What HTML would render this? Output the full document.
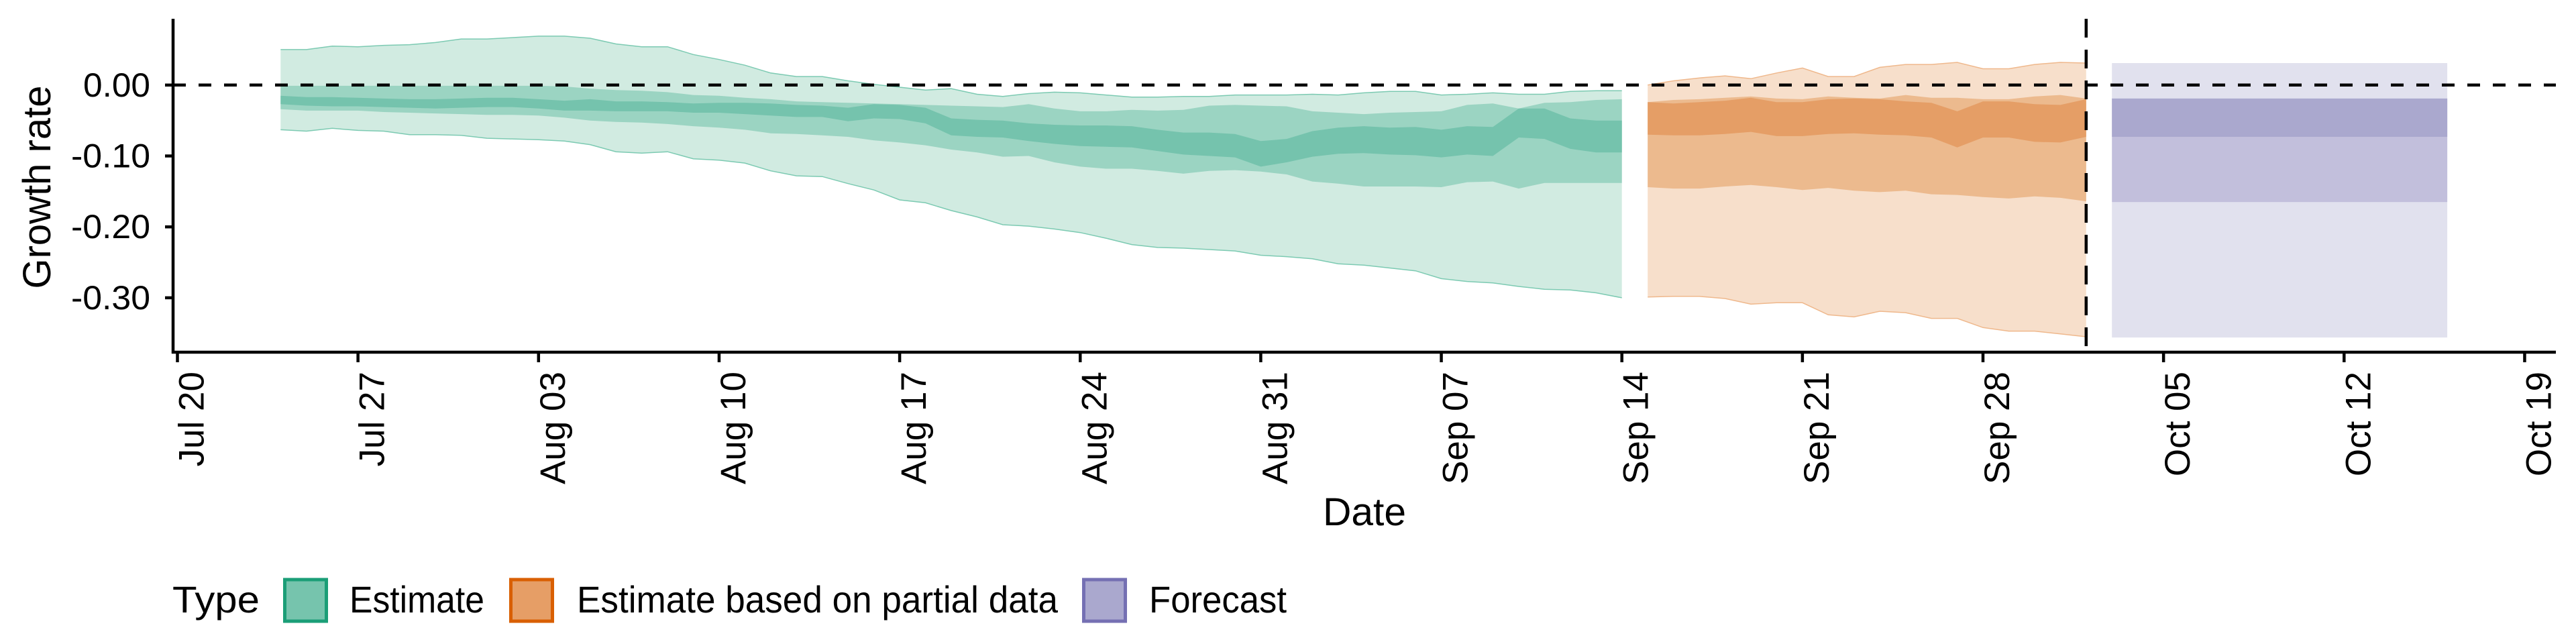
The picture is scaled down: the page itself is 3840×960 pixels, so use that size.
<!DOCTYPE html>
<html><head><meta charset="utf-8"><style>
html,body{margin:0;padding:0;background:#fff;}
svg{display:block;font-family:"Liberation Sans",Arial,sans-serif;}
</style></head><body>
<svg id="chart" width="3840" height="960" viewBox="0 0 3840 960" xmlns="http://www.w3.org/2000/svg"></svg>
<script>
// ---- data ----
const yTicks = [0, -0.1, -0.2, -0.3];
const yTickLabels = ["0.00", "-0.10", "-0.20", "-0.30"];
const xTickDays = [0, 7, 14, 21, 28, 35, 42, 49, 56, 63, 70, 77, 84, 91];
const xTickLabels = ["Jul 20","Jul 27","Aug 03","Aug 10","Aug 17","Aug 24","Aug 31","Sep 07","Sep 14","Sep 21","Sep 28","Oct 05","Oct 12","Oct 19"];
const estStartDay = 4;
const estOuterHi = [0.050,0.050,0.055,0.054,0.056,0.057,0.060,0.065,0.065,0.067,0.069,0.069,0.066,0.058,0.054,0.054,0.043,0.036,0.028,0.017,0.012,0.012,0.006,0.001,-0.003,-0.007,-0.005,-0.013,-0.016,-0.012,-0.010,-0.011,-0.014,-0.017,-0.017,-0.016,-0.016,-0.014,-0.014,-0.014,-0.013,-0.014,-0.011,-0.009,-0.009,-0.014,-0.013,-0.011,-0.013,-0.013,-0.009,-0.008,-0.008];
const estOuterLo = [-0.063,-0.065,-0.061,-0.064,-0.065,-0.070,-0.070,-0.071,-0.075,-0.076,-0.077,-0.079,-0.084,-0.094,-0.096,-0.094,-0.104,-0.106,-0.110,-0.121,-0.128,-0.129,-0.139,-0.148,-0.162,-0.166,-0.177,-0.186,-0.197,-0.199,-0.203,-0.208,-0.216,-0.225,-0.229,-0.230,-0.232,-0.234,-0.240,-0.242,-0.245,-0.252,-0.254,-0.258,-0.262,-0.273,-0.277,-0.279,-0.284,-0.288,-0.289,-0.293,-0.300];
const estMidHi = [-0.001,-0.001,-0.001,-0.001,-0.001,-0.001,-0.001,-0.001,-0.001,-0.001,-0.001,-0.002,-0.005,-0.007,-0.008,-0.010,-0.014,-0.015,-0.018,-0.020,-0.023,-0.024,-0.025,-0.026,-0.027,-0.028,-0.029,-0.030,-0.031,-0.027,-0.033,-0.037,-0.037,-0.035,-0.036,-0.035,-0.029,-0.028,-0.029,-0.030,-0.037,-0.039,-0.041,-0.039,-0.038,-0.037,-0.028,-0.026,-0.033,-0.025,-0.024,-0.021,-0.020];
const estMidLo = [-0.034,-0.036,-0.036,-0.036,-0.038,-0.039,-0.040,-0.041,-0.042,-0.042,-0.043,-0.046,-0.050,-0.052,-0.053,-0.055,-0.058,-0.060,-0.063,-0.068,-0.069,-0.071,-0.073,-0.078,-0.081,-0.085,-0.091,-0.095,-0.101,-0.100,-0.109,-0.115,-0.118,-0.118,-0.121,-0.125,-0.121,-0.120,-0.122,-0.126,-0.136,-0.139,-0.143,-0.143,-0.143,-0.144,-0.137,-0.136,-0.146,-0.138,-0.138,-0.138,-0.138];
const estInnerHi = [-0.015,-0.017,-0.017,-0.018,-0.019,-0.020,-0.020,-0.019,-0.018,-0.018,-0.020,-0.022,-0.020,-0.023,-0.023,-0.024,-0.026,-0.025,-0.025,-0.026,-0.028,-0.029,-0.032,-0.027,-0.028,-0.032,-0.047,-0.049,-0.050,-0.054,-0.056,-0.057,-0.057,-0.058,-0.063,-0.067,-0.067,-0.069,-0.079,-0.076,-0.065,-0.060,-0.058,-0.060,-0.059,-0.063,-0.058,-0.059,-0.033,-0.033,-0.047,-0.050,-0.050];
const estInnerLo = [-0.027,-0.029,-0.030,-0.030,-0.031,-0.032,-0.033,-0.032,-0.031,-0.031,-0.033,-0.036,-0.036,-0.037,-0.037,-0.037,-0.039,-0.039,-0.041,-0.043,-0.045,-0.045,-0.051,-0.047,-0.048,-0.054,-0.071,-0.073,-0.074,-0.079,-0.083,-0.086,-0.087,-0.088,-0.093,-0.098,-0.100,-0.102,-0.115,-0.109,-0.101,-0.097,-0.096,-0.098,-0.099,-0.102,-0.098,-0.100,-0.074,-0.076,-0.090,-0.095,-0.095];
const partStartDay = 57;
const partOuterHi = [0.000,0.006,0.010,0.013,0.009,0.017,0.024,0.012,0.012,0.025,0.029,0.029,0.032,0.023,0.023,0.029,0.032,0.031];
const partOuterLo = [-0.299,-0.298,-0.298,-0.301,-0.309,-0.307,-0.307,-0.324,-0.327,-0.319,-0.321,-0.329,-0.329,-0.342,-0.347,-0.347,-0.351,-0.355];
const partMidHi = [-0.024,-0.021,-0.020,-0.018,-0.016,-0.019,-0.020,-0.016,-0.018,-0.019,-0.014,-0.018,-0.018,-0.020,-0.020,-0.016,-0.014,-0.019];
const partMidLo = [-0.144,-0.146,-0.146,-0.143,-0.141,-0.144,-0.148,-0.145,-0.149,-0.151,-0.149,-0.154,-0.155,-0.158,-0.160,-0.157,-0.159,-0.164];
const partInnerHi = [-0.024,-0.026,-0.024,-0.022,-0.018,-0.024,-0.024,-0.020,-0.019,-0.020,-0.023,-0.025,-0.037,-0.023,-0.023,-0.027,-0.028,-0.020];
const partInnerLo = [-0.070,-0.071,-0.071,-0.069,-0.066,-0.072,-0.072,-0.069,-0.068,-0.070,-0.071,-0.074,-0.088,-0.074,-0.074,-0.080,-0.081,-0.073];
const forecastDays = [75, 88];
const forecastOuter = [0.031, -0.356];
const forecastMid = [-0.019, -0.165];
const forecastInner = [-0.019, -0.073];
const dataCutoffDay = 74;

// ---- scales ----
const X0 = 264.5, PXD = 38.45, Y0 = 126.8, PXV = 1057;
function xs(d){ return X0 + d*PXD; }
function ys(v){ return Y0 - v*PXV; }

const NS = "http://www.w3.org/2000/svg";
const svg = document.getElementById("chart");
function mk(tag, attrs, parent){
  const e = document.createElementNS(NS, tag);
  for (const k in attrs) e.setAttribute(k, attrs[k]);
  (parent||svg).appendChild(e);
  return e;
}
function ribbonPath(start, hi, lo){
  let p = "";
  for (let i=0;i<hi.length;i++) p += (i?"L":"M")+xs(start+i).toFixed(1)+","+ys(hi[i]).toFixed(1);
  for (let i=lo.length-1;i>=0;i--) p += "L"+xs(start+i).toFixed(1)+","+ys(lo[i]).toFixed(1);
  return p+"Z";
}
function linePath(start, arr){
  let p="";
  for (let i=0;i<arr.length;i++) p += (i?"L":"M")+xs(start+i).toFixed(1)+","+ys(arr[i]).toFixed(1);
  return p;
}

let el;
el = mk("path",{d:ribbonPath(estStartDay,estOuterHi,estOuterLo),fill:"#d1ebe1"});


el = mk("path",{d:ribbonPath(estStartDay,estMidHi,estMidLo),fill:"#9bd4c2"});


el = mk("path",{d:ribbonPath(estStartDay,estInnerHi,estInnerLo),fill:"#75c3ad"});


mk("path",{d:linePath(estStartDay,estOuterHi),fill:"none",stroke:"#7ccab2","stroke-width":1.5});
mk("path",{d:linePath(estStartDay,estOuterLo),fill:"none",stroke:"#7ccab2","stroke-width":1.5});

el = mk("path",{d:ribbonPath(partStartDay,partOuterHi,partOuterLo),fill:"#f7dfcb"});


el = mk("path",{d:ribbonPath(partStartDay,partMidHi,partMidLo),fill:"#ecba8e"});


el = mk("path",{d:ribbonPath(partStartDay,partInnerHi,partInnerLo),fill:"#e59e66"});


mk("path",{d:linePath(partStartDay,partOuterHi),fill:"none",stroke:"#efb88c","stroke-width":1.5});
mk("path",{d:linePath(partStartDay,partOuterLo),fill:"none",stroke:"#efb88c","stroke-width":1.5});

const fx0 = xs(forecastDays[0]), fx1 = xs(forecastDays[1]);
el = mk("rect",{x:fx0,y:ys(forecastOuter[0]),width:fx1-fx0,height:ys(forecastOuter[1])-ys(forecastOuter[0]),fill:"#e1e1ee"});


el = mk("rect",{x:fx0,y:ys(forecastMid[0]),width:fx1-fx0,height:ys(forecastMid[1])-ys(forecastMid[0]),fill:"#c2bfdc"});


el = mk("rect",{x:fx0,y:ys(forecastInner[0]),width:fx1-fx0,height:ys(forecastInner[1])-ys(forecastInner[0]),fill:"#aaa8ce"});



el = mk("line",{x1:258,x2:3810,y1:ys(0),y2:ys(0),stroke:"#000","stroke-width":4.5,"stroke-dasharray":"19 19"});


el = mk("line",{x1:xs(dataCutoffDay),x2:xs(dataCutoffDay),y1:28,y2:525,stroke:"#000","stroke-width":4.5,"stroke-dasharray":"28 18"});



el = mk("line",{x1:258,x2:258,y1:28,y2:527,stroke:"#000","stroke-width":4.5});


el = mk("line",{x1:256,x2:3810,y1:525,y2:525,stroke:"#000","stroke-width":4.5});



yTicks.forEach((v,i)=>{
  mk("line",{x1:246,x2:258,y1:ys(v),y2:ys(v),stroke:"#000","stroke-width":4.5});
  const t = mk("text",{x:224,y:ys(v)+17,"text-anchor":"end","font-size":50,textLength:yTickLabels[i].length>4?118:100,lengthAdjust:"spacingAndGlyphs",fill:"#000"});
  t.textContent = yTickLabels[i];
  
  
});
xTickDays.forEach((d,i)=>{
  const x = xs(d);
  mk("line",{x1:x,x2:x,y1:525,y2:540,stroke:"#000","stroke-width":4.5});
  const t = mk("text",{x:0,y:0,"text-anchor":"end","font-size":53,fill:"#000",transform:`translate(${x+39},554) rotate(-90)`});
  t.textContent = xTickLabels[i];
  
  
});

el = mk("text",{x:2034,y:783,"text-anchor":"middle","font-size":58,textLength:124,lengthAdjust:"spacingAndGlyphs",fill:"#000"});
el.textContent = "Date";


el = mk("text",{x:0,y:0,"text-anchor":"middle","font-size":58,fill:"#000",transform:"translate(75,279) rotate(-90)"});
el.textContent = "Growth rate";



el = mk("text",{x:257,y:913,"font-size":56,textLength:130,lengthAdjust:"spacingAndGlyphs",fill:"#000"});
el.textContent = "Type";


const legItems = [
  {x:422, fill:"#76c4ad", stroke:"#1b9e77", tx:521, tw:201, label:"Estimate", name:"legend-entry-estimate"},
  {x:759, fill:"#e69e66", stroke:"#d95f02", tx:860, tw:717, label:"Estimate based on partial data", name:"legend-entry-partial"},
  {x:1613, fill:"#aaa8ce", stroke:"#7570b3", tx:1713, tw:205, label:"Forecast", name:"legend-entry-forecast"}
];
legItems.forEach(it=>{
  const g = mk("g",{});
  
  
  mk("rect",{x:it.x+2.5,y:864,width:62,height:62,fill:it.fill,stroke:it.stroke,"stroke-width":5},g);
  const t = mk("text",{x:it.tx,y:913,"font-size":56,textLength:it.tw,lengthAdjust:"spacingAndGlyphs",fill:"#000"},g);
  t.textContent = it.label;
});
</script>
</body></html>
